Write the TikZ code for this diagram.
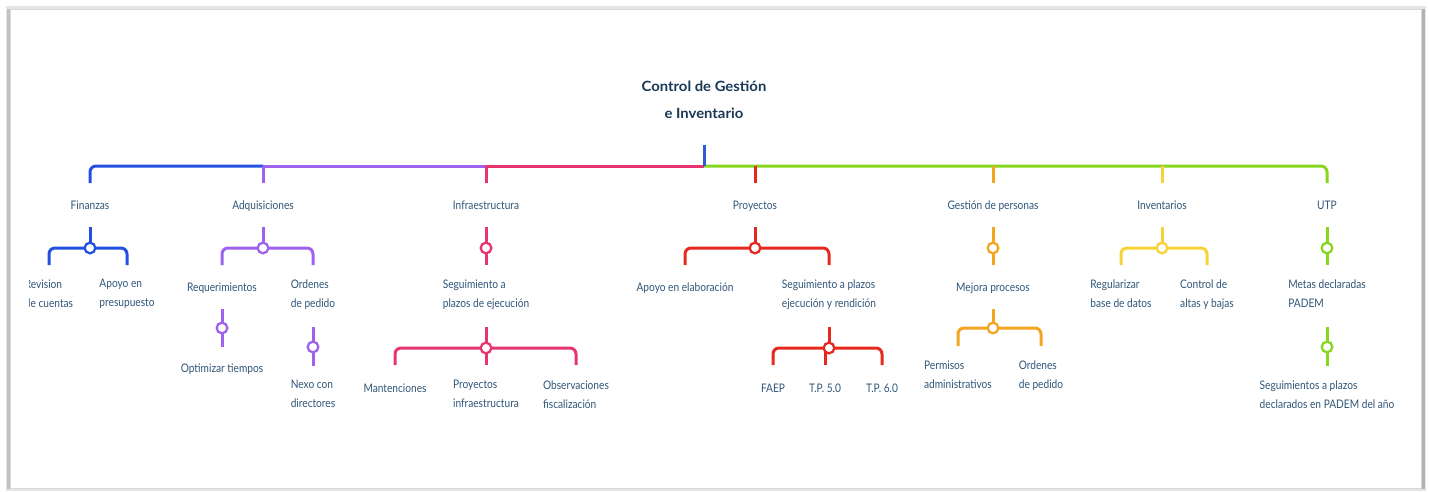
\documentclass[tikz,border=0pt]{standalone}
\usepackage{fontspec}
\usetikzlibrary{calc}
\setmainfont{Lato}[FakeStretch=0.86]
\newfontfamily\ttlfont{Lato}[FakeStretch=1.05]
\definecolor{finc}{RGB}{35,80,224}
\definecolor{adqc}{RGB}{158,98,238}
\definecolor{infc}{RGB}{232,52,112}
\definecolor{proc}{RGB}{230,40,30}
\definecolor{gesc}{RGB}{243,165,32}
\definecolor{invc}{RGB}{246,210,55}
\definecolor{utpc}{RGB}{136,214,30}
\definecolor{rootc}{RGB}{45,90,215}
\definecolor{txtc}{RGB}{48,86,120}
\definecolor{ttlc}{RGB}{26,56,86}
\begin{document}
\begin{tikzpicture}[x={(0.75pt,0pt)}, y={(0pt,-0.75pt)},
  conn/.style={line width=2.25pt, rounded corners=4.5pt},
  str/.style={to path={-- ($(\tikztostart)!0.5!(\tikztotarget)$) -- (\tikztotarget)}},
  jn/.style={circle, draw, fill=white, line width=1.7pt, inner sep=0pt, minimum size=8pt},
  lbl/.style={anchor=north, inner sep=0pt, align=left, text=txtc,
    font=\fontsize{8.85pt}{14.25pt}\selectfont, execute at begin node={\rule{0pt}{1em}}},
  ttl/.style={anchor=north, inner sep=0pt, align=center, text=ttlc,
    font=\ttlfont\bfseries\fontsize{10.6pt}{19.8pt}\selectfont, execute at begin node={\rule{0pt}{1em}}}]
\useasboundingbox (0,0) rectangle (1429,492);
% frame
\fill[black!10] (6,6) rectangle (1426,491);
\fill[black!30] (1421,9) rectangle (1425,489);
\fill[black!24] (7,9) rectangle (10,489);
\fill[white] (10,9) rectangle (1421,488);
\draw[black!15, line width=0.4pt] (10,9) rectangle (1421,488);

\begin{scope}
\clip (29,10) rectangle (1420,487);
% title
\node[ttl] (root) at (704,81) {Control de Gestión\\e Inventario};
\coordinate (root-s) at (704,145);
\coordinate (hub) at (704,166);

% level 1 labels
\node[lbl] (fin) at (90,197.7) {Finanzas};
\node[lbl] (adq) at (263,197.7) {Adquisiciones};
\node[lbl] (inf) at (486,197.7) {Infraestructura};
\node[lbl] (pro) at (755,197.7) {Proyectos};
\node[lbl] (ges) at (993,197.7) {Gestión de personas};
\node[lbl] (inv) at (1162,197.7) {Inventarios};
\node[lbl] (utp) at (1327,197.7) {UTP};

\foreach \n/\x in {fin/90,adq/263,inf/486,pro/755,ges/993,inv/1162,utp/1327}{
  \coordinate (\n-j) at (\x,166);
  \coordinate (\n-t) at (\x,183);
  \coordinate (\n-s) at (\x,227);
}

% main bar
\draw[conn, finc] (fin-t) |- (adq-j);
\draw[conn, adqc] (adq-j) to[str] (inf-j);
\draw[conn, infc] (inf-j) to[str] (hub);
\draw[conn, utpc] (hub) -| (utp-t);
\draw[conn, adqc] (adq-j) to[str] (adq-t);
\draw[conn, infc] (inf-j) to[str] (inf-t);
\draw[conn, proc] (pro-j) to[str] (pro-t);
\draw[conn, gesc] (ges-j) to[str] (ges-t);
\draw[conn, invc] (inv-j) to[str] (inv-t);
\draw[conn, rootc] (root-s) to[str] (hub);

% ---------- Finanzas
\node[lbl] (rev) at (49,279.2) {Revision\\de cuentas};
\node[lbl] (apo) at (127,279.2) {Apoyo en\\presupuesto};
\coordinate (fin-c0) at (90,248);
\draw[conn, finc] (fin-s) to[str] (fin-c0);
\draw[conn, finc] (49,265) |- (fin-c0) -| (127,265);
\node[jn, draw=finc] (fin-c) at (fin-c0) {};

% ---------- Adquisiciones
\node[lbl] (req) at (222,279.2) {Requerimientos};
\node[lbl] (ord) at (313,279.2) {Ordenes\\de pedido};
\node[lbl] (opt) at (222,360.2) {Optimizar tiempos};
\node[lbl] (nex) at (313,380.2) {Nexo con\\directores};
\coordinate (adq-c0) at (263,248);
\draw[conn, adqc] (adq-s) to[str] (adq-c0);
\draw[conn, adqc] (222,265) |- (adq-c0) -| (313,265);
\node[jn, draw=adqc] (adq-c) at (adq-c0) {};
\coordinate (req-c0) at (222,328);
\draw[conn, adqc] (222,309) to[str] (req-c0) to[str] (222,347);
\node[jn, draw=adqc] (req-c) at (req-c0) {};
\coordinate (ord-c0) at (313,347);
\draw[conn, adqc] (313,327) to[str] (ord-c0) to[str] (313,366);
\node[jn, draw=adqc] (ord-c) at (ord-c0) {};

% ---------- Infraestructura
\node[lbl] (seg) at (486,279.2) {Seguimiento a\\plazos de ejecución};
\node[lbl] (man) at (395,380.2) {Mantenciones};
\node[lbl] (pin) at (486,380.2) {Proyectos\\infraestructura};
\node[lbl] (obs) at (576,380.2) {Observaciones\\fiscalización};
\coordinate (inf-c0) at (486,248);
\draw[conn, infc] (inf-s) to[str] (inf-c0) to[str] (486,265);
\node[jn, draw=infc] (inf-c) at (inf-c0) {};
\coordinate (seg-c0) at (486,348);
\draw[conn, infc] (486,327) to[str] (seg-c0) to[str] (486,365);
\draw[conn, infc] (395,365) |- (seg-c0) -| (576,365);
\node[jn, draw=infc] (seg-c) at (seg-c0) {};

% ---------- Proyectos
\node[lbl] (ela) at (685,279.2) {Apoyo en elaboración};
\node[lbl] (spr) at (829,279.2) {Seguimiento a plazos\\ejecución y rendición};
\node[lbl] (fae) at (773,380.2) {FAEP};
\node[lbl] (tp5) at (825,380.2) {T.P. 5.0};
\node[lbl] (tp6) at (882,380.2) {T.P. 6.0};
\coordinate (pro-c0) at (755,248);
\draw[conn, proc] (pro-s) to[str] (pro-c0);
\draw[conn, proc] (685,265) |- (pro-c0) -| (829,265);
\node[jn, draw=proc] (pro-c) at (pro-c0) {};
\coordinate (spr-c0) at (829,348);
\draw[conn, proc] (829,327) to[str] (spr-c0);
\draw[conn, proc] (773,365) |- (spr-c0) -| (882,365);
\draw[conn, proc] (825,348) to[str] (825,365);
\node[jn, draw=proc] (spr-c) at (spr-c0) {};

% ---------- Gestion de personas
\node[lbl] (mej) at (993,279.2) {Mejora procesos};
\node[lbl] (per) at (958,360.2) {Permisos\\administrativos};
\node[lbl] (ord2) at (1041,360.2) {Ordenes\\de pedido};
\coordinate (ges-c0) at (993,248);
\draw[conn, gesc] (ges-s) to[str] (ges-c0) to[str] (993,265);
\node[jn, draw=gesc] (ges-c) at (ges-c0) {};
\coordinate (mej-c0) at (993,328);
\draw[conn, gesc] (993,309) to[str] (mej-c0);
\draw[conn, gesc] (958,346) |- (mej-c0) -| (1041,346);
\node[jn, draw=gesc] (mej-c) at (mej-c0) {};

% ---------- Inventarios
\node[lbl] (reg) at (1121,279.2) {Regularizar\\base de datos};
\node[lbl] (alt) at (1207,279.2) {Control de\\altas y bajas};
\coordinate (inv-c0) at (1162,248);
\draw[conn, invc] (inv-s) to[str] (inv-c0);
\draw[conn, invc] (1121,265) |- (inv-c0) -| (1207,265);
\node[jn, draw=invc] (inv-c) at (inv-c0) {};

% ---------- UTP
\node[lbl] (met) at (1327,279.2) {Metas declaradas\\PADEM};
\node[lbl] (spd) at (1327,380.2) {Seguimientos a plazos\\declarados en PADEM del año};
\coordinate (utp-c0) at (1327,248);
\draw[conn, utpc] (utp-s) to[str] (utp-c0) to[str] (1327,265);
\node[jn, draw=utpc] (utp-c) at (utp-c0) {};
\coordinate (met-c0) at (1327,347);
\draw[conn, utpc] (1327,327) to[str] (met-c0) to[str] (1327,366);
\node[jn, draw=utpc] (met-c) at (met-c0) {};
\end{scope}
\end{tikzpicture}
\end{document}
